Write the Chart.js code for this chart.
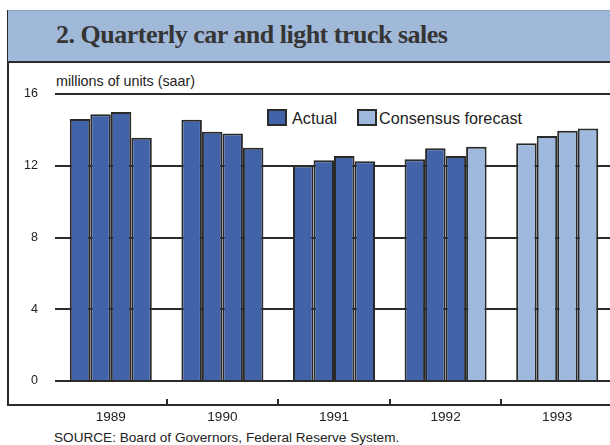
<!DOCTYPE html>
<html>
<head>
<meta charset="utf-8">
<script src="https://cdn.jsdelivr.net/npm/chart.js@4.4.0/dist/chart.umd.min.js"></script>
<style>
  html, body { margin: 0; padding: 0; width: 610px; height: 445px; overflow: hidden; background: #fff; }
  #wrap { position: relative; width: 610px; height: 445px; font-family: "Liberation Sans", Arial, sans-serif; color: #222; }
  #frame { position: absolute; left: 7px; top: 10px; width: 610px; height: 394px; border-left: 2px solid #2b2b2b; border-bottom: 2px solid #2b2b2b; }
  #band { position: absolute; left: 8px; top: 10px; width: 610px; height: 50px; background: #a1b9d9; border-top: 1px solid #8ea3bf; border-bottom: 2px solid #2b2b2b; }
  #title { position: absolute; left: 56px; top: 20px; font: bold 26px/30px "Liberation Serif", "DejaVu Serif", serif; letter-spacing: -0.5px; color: #353535; white-space: nowrap; }
  #unit { position: absolute; left: 56px; top: 73px; font-size: 14.3px; line-height: 16px; white-space: nowrap; }
  .lg { position: absolute; top: 109px; width: 20px; height: 17px; box-sizing: border-box; border: 2px solid #2b2b2b; }
  .lt { position: absolute; top: 109px; font-size: 16.2px; line-height: 18px; white-space: nowrap; }
  #source { position: absolute; left: 54px; top: 430px; font-size: 13.6px; line-height: 16px; white-space: nowrap; }
  canvas { position: absolute; left: 0; top: 0; }
</style>
</head>
<body>
<div id="wrap">
  <div id="frame"></div>
  <div id="band"></div>
  <div id="title">2. Quarterly car and light truck sales</div>
  <div id="unit">millions of units (saar)</div>
  <div class="lg" style="left:267px; background:#4363a9;"></div>
  <div class="lt" style="left:292px;">Actual</div>
  <div class="lg" style="left:357px; background:#9fb9de;"></div>
  <div class="lt" style="left:379px;">Consensus forecast</div>
  <div id="source">SOURCE: Board of Governors, Federal Reserve System.</div>
  <canvas id="salesCanvas" width="614" height="445" style="width:614px;height:445px;"></canvas>
</div>
<script>
// Quarterly sales, millions of units (seasonally adjusted annual rate)
var years = ['1989', '1990', '1991', '1992', '1993'];
var q1 = [14.6, 14.57, 12.02, 12.36, 13.25];
var q2 = [14.87, 13.9, 12.3, 12.97, 13.66];
var q3 = [15.0, 13.8, 12.54, 12.54, 13.95];
var q4 = [13.56, 13.0, 12.25, 13.06, 14.08];
var yTicks = [0, 4, 8, 12, 16];
// first forecast quarter, counted from 1989 Q1 (1992 Q4)
var forecastStart = 15;

var actualColor = '#4363a9';
var forecastColor = '#9fb9de';

function quarterSet(values, q) {
    return {
        label: 'Q' + (q + 1),
        data: values,
        backgroundColor: function (ctx) {
            return (ctx.dataIndex * 4 + q >= forecastStart) ? forecastColor : actualColor;
        },
        borderColor: '#2a2a2a',
        borderWidth: 2,
        barPercentage: 1.0,
        categoryPercentage: 0.735
    };
}

// small ticks on the frame line between the years
var yearTicks = {
    id: 'yearTicks',
    afterDraw: function (chart) {
        var x = chart.scales.x;
        var c = chart.ctx;
        c.save();
        c.strokeStyle = '#2b2b2b';
        c.lineWidth = 2;
        for (var i = 0; i < years.length - 1; i++) {
            var px = Math.round((x.getPixelForValue(i) + x.getPixelForValue(i + 1)) / 2);
            c.beginPath();
            c.moveTo(px, 399);
            c.lineTo(px, 405);
            c.stroke();
        }
        c.restore();
    }
};

Chart.defaults.font.family = '"Liberation Sans", Arial, sans-serif';
Chart.defaults.color = '#222';

var ctx = document.getElementById('salesCanvas').getContext('2d');
var chart = new Chart(ctx, {
    type: 'bar',
    data: {
        labels: years,
        datasets: [quarterSet(q1, 0), quarterSet(q2, 1), quarterSet(q3, 2), quarterSet(q4, 3)]
    },
    options: {
        responsive: false,
        animation: false,
        layout: { padding: { top: 94, right: 1, bottom: 0, left: 0 } },
        plugins: {
            legend: { display: false },
            tooltip: { enabled: false }
        },
        scales: {
            x: {
                grid: { display: true, drawOnChartArea: false, drawTicks: false },
                border: { display: false },
                ticks: { font: { size: 13.6 }, padding: 28, color: '#222' },
                afterFit: function (scale) { scale.height = 64; }
            },
            y: {
                min: 0,
                max: 16,
                grid: { color: '#2a2a2a', lineWidth: 2, drawTicks: false },
                border: { display: false },
                ticks: { stepSize: 4, font: { size: 12.5 }, padding: 17, color: '#222' },
                afterBuildTicks: function (scale) {
                    scale.ticks = yTicks.map(function (v) { return { value: v }; });
                },
                afterFit: function (scale) { scale.width = 55; }
            }
        }
    },
    plugins: [yearTicks]
});
</script>
</body>
</html>
